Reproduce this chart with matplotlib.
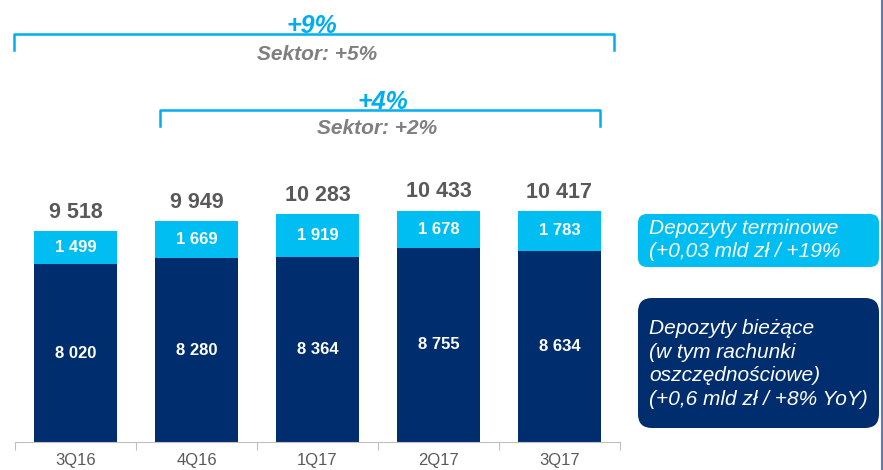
import matplotlib.pyplot as plt
from matplotlib.patches import FancyBboxPatch
import numpy as np

quarters = ['3Q16', '4Q16', '1Q17', '2Q17', '3Q17']
biezace = [8020, 8280, 8364, 8755, 8634]
terminowe = [1499, 1669, 1919, 1678, 1783]
totals = [9518, 9949, 10283, 10433, 10417]

navy = '#002D6E'
light = '#00BEF2'
bracket_c = '#00AEEF'
grey = '#595959'

plt.rcParams['font.family'] = ['Liberation Sans', 'DejaVu Sans']

W, H = 883, 470
fig = plt.figure(figsize=(W / 100, H / 100), dpi=100)

# chart axes: x from 15px to 620px, baseline at 442px, top of figure at 0
ax = fig.add_axes([15 / W, (H - 442) / H, 605 / W, 442 / H])
px_per_unit = 211 / 9518
ax.set_ylim(0, 442 / px_per_unit)
ax.set_xlim(-0.5, 4.5)

x = np.arange(len(quarters))
ax.bar(x, biezace, width=0.68, color=navy, zorder=2)
ax.bar(x, terminowe, width=0.68, bottom=biezace, color=light, zorder=2)

def fmt(v):
    return f'{v:,}'.replace(',', ' ')

for i in range(len(quarters)):
    ax.text(x[i], biezace[i] / 2, fmt(biezace[i]), ha='center', va='center',
            color='white', fontsize=12, fontweight='bold')
    ax.text(x[i], biezace[i] + terminowe[i] / 2, fmt(terminowe[i]), ha='center',
            va='center', color='white', fontsize=12, fontweight='bold')
    ax.text(x[i], totals[i] + 19 / px_per_unit, fmt(totals[i]), ha='center', va='center',
            color=grey, fontsize=15.5, fontweight='bold')

for s in ['top', 'right', 'left']:
    ax.spines[s].set_visible(False)
ax.spines['bottom'].set_color('#BFBFBF')
ax.set_yticks([])
ax.set_xticks(np.arange(-0.5, 5, 1))
ax.set_xticklabels([''] * 6)
ax.tick_params(axis='x', length=6, color='#BFBFBF')
for i, q in enumerate(quarters):
    ax.text(x[i], -18 / px_per_unit, q, ha='center', va='center',
            color=grey, fontsize=12)

# growth brackets (pixel coordinates over the whole figure)
ov = fig.add_axes([0, 0, 1, 1], zorder=5)
ov.set_xlim(0, W)
ov.set_ylim(H, 0)
ov.axis('off')
ov.patch.set_alpha(0)

def bracket(x0, x1, y, drop):
    ov.plot([x0, x0, x1, x1], [y + drop, y, y, y + drop], color=bracket_c, lw=1.8,
            solid_joinstyle='round')

bracket(14, 614, 34, 16)
ov.text(312, 33, '+9%', ha='center', va='baseline', color=bracket_c, fontsize=18,
        fontweight='bold', fontstyle='italic')
ov.text(317, 55, 'Sektor: +5%', ha='center', va='center', color='#7F7F7F',
        fontsize=15, fontweight='bold', fontstyle='italic')
bracket(160, 600, 110, 16)
ov.text(383, 109, '+4%', ha='center', va='baseline', color=bracket_c, fontsize=18,
        fontweight='bold', fontstyle='italic')
ov.text(377, 129, 'Sektor: +2%', ha='center', va='center', color='#7F7F7F',
        fontsize=15, fontweight='bold', fontstyle='italic')

# legend boxes
ov.add_patch(FancyBboxPatch((641, 217), 235, 47, boxstyle='round,pad=3,rounding_size=9',
                            fc=light, ec='none'))
ov.text(649, 240, 'Depozyty terminowe\n(+0,03 mld zł / +19%', ha='left', va='center',
        color='white', fontsize=15, fontstyle='italic', linespacing=1.3)
ov.add_patch(FancyBboxPatch((641, 301), 235, 124, boxstyle='round,pad=3,rounding_size=14',
                            fc=navy, ec='none'))
ov.text(649, 364, 'Depozyty bieżące\n(w tym rachunki\noszczędnościowe)\n(+0,6 mld zł / +8% YoY)',
        ha='left', va='center', color='white', fontsize=15, fontstyle='italic',
        linespacing=1.3)

ov.plot([882, 882], [0, H], color='#5A7DB5', lw=1.5)

fig.savefig('out.png', dpi=100)
